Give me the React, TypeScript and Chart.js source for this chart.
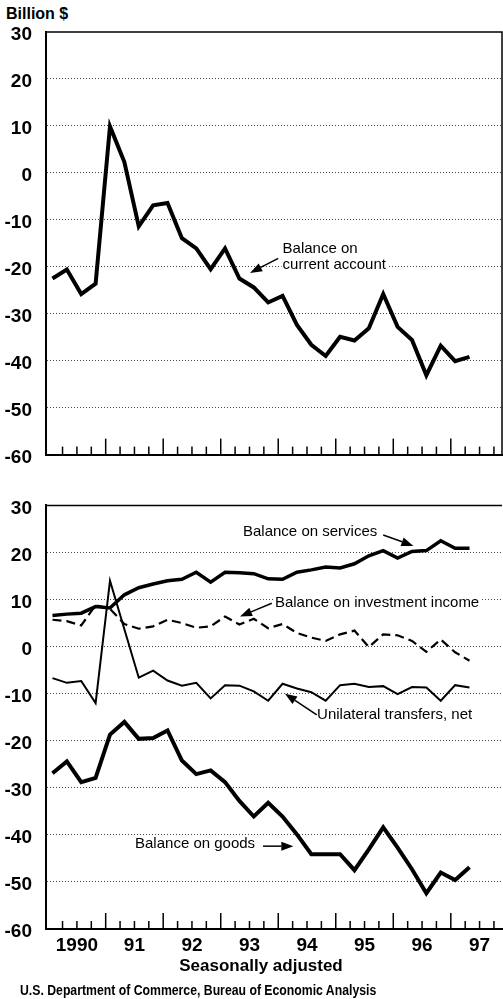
import React, { useEffect, useRef } from "react";
import { Chart, registerables } from "chart.js";

Chart.register(...registerables);

// Quarterly periods, 1990:I – 1997:II
const quarters = [
  "1990Q1", "1990Q2", "1990Q3", "1990Q4",
  "1991Q1", "1991Q2", "1991Q3", "1991Q4",
  "1992Q1", "1992Q2", "1992Q3", "1992Q4",
  "1993Q1", "1993Q2", "1993Q3", "1993Q4",
  "1994Q1", "1994Q2", "1994Q3", "1994Q4",
  "1995Q1", "1995Q2", "1995Q3", "1995Q4",
  "1996Q1", "1996Q2", "1996Q3", "1996Q4",
  "1997Q1", "1997Q2",
];

const currentAccount = [
  -22.5, -20.6, -25.8, -23.6, 9.9, 2.3, -11.4, -6.9, -6.4, -13.9,
  -16.1, -20.5, -16.1, -22.5, -24.4, -27.6, -26.2, -32.4, -36.6, -39.0,
  -34.9, -35.7, -33.1, -25.8, -32.8, -35.6, -43.1, -36.8, -40.1, -39.2,
];

const services = [
  6.6, 6.9, 7.1, 8.5, 8.2, 11.0, 12.5, 13.3, 14.0, 14.3,
  15.8, 13.7, 15.8, 15.7, 15.5, 14.4, 14.3, 15.8, 16.3, 16.9,
  16.7, 17.6, 19.3, 20.4, 18.8, 20.2, 20.4, 22.5, 20.9, 20.9,
];

const investmentIncome = [
  5.7, 5.4, 4.5, 8.8, 8.0, 4.8, 3.8, 4.3, 5.7, 5.0,
  4.0, 4.3, 6.4, 4.7, 5.9, 3.9, 4.8, 2.9, 1.9, 1.2,
  2.6, 3.4, -0.1, 2.6, 2.4, 1.2, -1.1, 1.5, -1.2, -3.0,
];

const unilateralTransfers = [
  -6.7, -7.7, -7.3, -12.0, 14.0, 3.7, -6.6, -5.1, -7.2, -8.3,
  -7.7, -11.0, -8.2, -8.3, -9.5, -11.5, -7.9, -8.9, -9.7, -11.5,
  -8.2, -7.9, -8.6, -8.4, -10.1, -8.6, -8.7, -11.5, -8.2, -8.7,
];

const goods = [
  -26.9, -24.4, -28.8, -27.9, -18.7, -16.0, -19.6, -19.4, -17.8, -24.2,
  -27.1, -26.3, -28.8, -32.8, -36.1, -33.2, -36.1, -39.9, -44.1, -44.1,
  -44.1, -47.5, -43.1, -38.4, -42.7, -47.3, -52.4, -48.0, -49.6, -46.9,
];

const yearLabels = ["1990", "91", "92", "93", "94", "95", "96", "97"];
const yMin = -60;
const yMax = 30;
const yStep = 10;

const FONT = '"Liberation Sans", Arial, Helvetica, sans-serif';

type Note = {
  lines: string[];
  at: [number, number];
  from: [number, number];
  to: [number, number];
};

const topNotes: Note[] = [
  { lines: ["Balance on", "current account"], at: [16.0, -16.25], from: [15.7, -18.2], to: [13.74, -21.3] },
];

const bottomNotes: Note[] = [
  { lines: ["Balance on services"], at: [13.25, 24.35], from: [23.0, 23.7], to: [25.1, 21.4] },
  { lines: ["Balance on investment income"], at: [15.47, 9.3], from: [15.25, 9.2], to: [13.04, 6.4] },
  { lines: ["Unilateral transfers, net"], at: [18.4, -14.6], from: [18.38, -14.5], to: [16.17, -10.0] },
  { lines: ["Balance on goods"], at: [5.74, -42.0], from: [14.64, -42.4], to: [16.75, -42.4] },
];

const toPoints = (vals: number[]) => vals.map((v, i) => ({ x: i, y: v }));

function makeDecorPlugin(notes: Note[], rightBorder: boolean) {
  return {
    id: "decor",
    afterDatasetsDraw(chart: any) {
      const { ctx, chartArea, scales } = chart;
      const xs = scales.x;
      const ys = scales.y;
      ctx.save();
      // frame top / right
      ctx.strokeStyle = "#000";
      ctx.lineWidth = 1.5;
      ctx.beginPath();
      ctx.moveTo(chartArea.left, chartArea.top);
      ctx.lineTo(chartArea.right, chartArea.top);
      if (rightBorder) ctx.lineTo(chartArea.right, chartArea.bottom);
      ctx.stroke();
      // inward quarter ticks
      ctx.lineWidth = 1.5;
      for (let k = 1; k <= 32; k++) {
        const px = xs.getPixelForValue(k - 0.3);
        if (px > chartArea.right - 1) break;
        const len = k % 4 === 0 ? 16 : 8;
        ctx.beginPath();
        ctx.moveTo(px, chartArea.bottom);
        ctx.lineTo(px, chartArea.bottom - len);
        ctx.stroke();
      }
      // notes
      ctx.font = `15px ${FONT}`;
      ctx.textBaseline = "middle";
      ctx.textAlign = "left";
      for (const n of notes) {
        const tx = xs.getPixelForValue(n.at[0]);
        const ty = ys.getPixelForValue(n.at[1]);
        n.lines.forEach((t, i) => {
          const w = ctx.measureText(t).width;
          ctx.fillStyle = "#fff";
          ctx.fillRect(tx - 1, ty + i * 16 - 7, w + 2, 14);
          ctx.fillStyle = "#000";
          ctx.fillText(t, tx, ty + i * 16);
        });
        const fx = xs.getPixelForValue(n.from[0]);
        const fy = ys.getPixelForValue(n.from[1]);
        const ax = xs.getPixelForValue(n.to[0]);
        const ay = ys.getPixelForValue(n.to[1]);
        const ang = Math.atan2(ay - fy, ax - fx);
        const head = 12;
        const hw = 4.5;
        const bx = ax - head * Math.cos(ang);
        const by = ay - head * Math.sin(ang);
        ctx.strokeStyle = "#000";
        ctx.lineWidth = 1.5;
        ctx.beginPath();
        ctx.moveTo(fx, fy);
        ctx.lineTo(bx, by);
        ctx.stroke();
        ctx.fillStyle = "#000";
        ctx.beginPath();
        ctx.moveTo(ax, ay);
        ctx.lineTo(bx + hw * Math.sin(ang), by - hw * Math.cos(ang));
        ctx.lineTo(bx - hw * Math.sin(ang), by + hw * Math.cos(ang));
        ctx.closePath();
        ctx.fill();
      }
      ctx.restore();
    },
  };
}

function makeOptions(showXLabels: boolean, padTop: number, xHeight: number) {
  return {
    animation: false,
    responsive: false,
    devicePixelRatio: 1,
    layout: { padding: { top: padTop, right: 1, left: 0, bottom: 0 } },
    plugins: { legend: { display: false }, tooltip: { enabled: false }, title: { display: false } },
    elements: {
      point: { radius: 0, hoverRadius: 0 },
      line: { tension: 0, borderJoinStyle: "miter" as const, borderCapStyle: "butt" as const },
    },
    scales: {
      x: {
        type: "linear" as const,
        min: -0.45,
        max: 31.26,
        grid: { display: false, drawTicks: false },
        border: { display: true, color: "#000", width: 2 },
        afterBuildTicks: (s: any) => {
          s.ticks = yearLabels.map((_, k) => ({ value: 4 * k + 1.7 }));
        },
        ticks: {
          display: showXLabels,
          autoSkip: false,
          maxRotation: 0,
          minRotation: 0,
          padding: 5,
          color: "#000",
          font: { family: FONT, size: 19, weight: "bold" as const },
          callback: (_v: any, i: number) => yearLabels[i],
        },
        afterFit: (s: any) => {
          s.height = xHeight;
        },
      },
      y: {
        min: yMin,
        max: yMax,
        ticks: {
          stepSize: yStep,
          padding: 14,
          labelOffset: 3,
          color: "#000",
          font: { family: FONT, size: 19, weight: "bold" as const },
        },
        grid: {
          drawTicks: false,
          lineWidth: 1,
          color: (c: any) =>
            c.tick && (c.tick.value === yMax || c.tick.value === yMin) ? "rgba(0,0,0,0)" : "#444",
        },
        border: { display: true, color: "#000", width: 2, dash: [1, 2] },
        afterFit: (s: any) => {
          s.width = 46;
        },
      },
    },
  };
}

export default function App() {
  const topRef = useRef<HTMLCanvasElement>(null);
  const botRef = useRef<HTMLCanvasElement>(null);

  useEffect(() => {
    const top = new Chart(topRef.current as HTMLCanvasElement, {
      type: "line",
      data: {
        labels: quarters,
        datasets: [
          {
            label: "Balance on current account",
            data: toPoints(currentAccount),
            borderColor: "#000",
            borderWidth: 4,
            fill: false,
          },
        ],
      },
      options: makeOptions(false, 32, 16) as any,
      plugins: [makeDecorPlugin(topNotes, true)],
    });
    const bottom = new Chart(botRef.current as HTMLCanvasElement, {
      type: "line",
      data: {
        labels: quarters,
        datasets: [
          { label: "Balance on goods", data: toPoints(goods), borderColor: "#000", borderWidth: 4, fill: false },
          { label: "Balance on services", data: toPoints(services), borderColor: "#000", borderWidth: 3.5, fill: false },
          {
            label: "Balance on investment income",
            data: toPoints(investmentIncome),
            borderColor: "#000",
            borderWidth: 2.2,
            borderDash: [9, 5],
            fill: false,
          },
          {
            label: "Unilateral transfers, net",
            data: toPoints(unilateralTransfers),
            borderColor: "#000",
            borderWidth: 2,
            fill: false,
          },
        ],
      },
      options: makeOptions(true, 19, 70) as any,
      plugins: [makeDecorPlugin(bottomNotes, false)],
    });
    return () => {
      top.destroy();
      bottom.destroy();
    };
  }, []);

  return (
    <div style={{ position: "absolute", left: 0, top: 0, width: 503, height: 999, background: "#fff", overflow: "hidden", fontFamily: FONT }}>
      <div style={{ position: "absolute", left: 6, top: 6, fontSize: 16, lineHeight: "16px", fontWeight: "bold", color: "#000" }}>
        Billion $
      </div>
      <canvas ref={topRef} width={503} height={480} style={{ position: "absolute", left: 0, top: 0, width: 503, height: 480 }} />
      <canvas ref={botRef} width={503} height={519} style={{ position: "absolute", left: 0, top: 480, width: 503, height: 519 }} />
      <div style={{ position: "absolute", left: 0, width: 522, top: 957, textAlign: "center", fontSize: 17, lineHeight: "17px", fontWeight: "bold", color: "#000" }}>
        Seasonally adjusted
      </div>
      <div style={{ position: "absolute", left: 20, top: 983, fontSize: 14, lineHeight: "14px", fontWeight: "bold", color: "#000", whiteSpace: "nowrap", transform: "scaleX(0.875)", transformOrigin: "left top" }}>
        U.S. Department of Commerce, Bureau of Economic Analysis
      </div>
    </div>
  );
}
